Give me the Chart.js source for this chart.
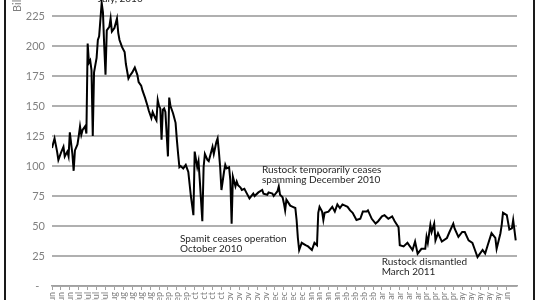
<!DOCTYPE html>
<html>
<head>
<meta charset="utf-8">
<script src="https://cdn.jsdelivr.net/npm/chart.js@4.4.1/dist/chart.umd.min.js"></script>
<style>
  body { margin: 0; background: #fff; }
  #wrap { position: relative; width: 540px; height: 300px; overflow: hidden; }
  #box { position: absolute; left: 0; top: -40px; width: 540px; height: 340px; }
</style>
</head>
<body>
<div id="wrap"><div id="box"><canvas id="spam"></canvas></div></div>
<script>
// day 0 = 15 June 2010, one point per reading
var days = [0, 2, 4, 5, 7, 9, 10, 12, 13, 14, 16, 17, 18, 20, 21, 22, 23, 24, 26, 27,
    28, 29, 30, 31, 32, 33, 35, 36, 37, 39, 40, 41, 42, 43, 45, 46, 47, 49, 51, 52,
    53, 55, 57, 58, 60, 61, 63, 64, 65, 67, 68, 70, 71, 73, 75, 76, 78, 79, 81, 82,
    83, 84, 85, 86, 87, 88, 89, 91, 92, 93, 95, 97, 98, 99, 100,
    101, 103, 105, 107, 108, 109, 111, 112, 114, 115, 116, 118, 119, 120, 122, 123, 124, 126, 127, 129,
    130, 131, 132, 133, 135, 136, 137, 139, 140, 141, 142, 144, 145, 146, 148, 149, 151, 153, 155, 158,
    159, 162, 165, 166, 169, 170, 173, 174, 177, 178, 179, 181, 182, 183, 184, 187, 189, 191, 192, 193,
    194, 196, 199, 201, 204, 206, 208, 209, 210, 212, 213, 214, 217, 220, 222, 224, 226, 228, 232, 234,
    236, 239, 242, 244, 247, 248, 251, 254, 256, 259, 261, 264, 267, 269, 272, 273, 276, 279, 283, 285,
    287, 290, 293, 294, 295, 297, 298, 300, 301, 303, 306, 310, 312, 315, 316, 319, 322, 324, 327, 330,
    332, 334, 338, 340, 342, 345, 348, 349, 352, 353, 354, 357, 359, 361, 362, 364]
var volumes = [115, 123, 112, 105, 111, 116, 108, 112, 108, 128, 110, 96, 113, 118, 125, 133, 126, 130, 133, 127,
    202, 186, 188, 180, 125, 178, 190, 205, 208, 236, 228, 200, 176, 213, 216, 223, 212, 215, 223, 211,
    205, 199, 195, 185, 173, 175, 178, 180, 182, 176, 170, 167, 163, 157, 150, 146, 140, 145, 140, 138,
    155, 150, 148, 122, 147, 148, 145, 108, 157, 150, 144, 136, 122, 110, 99,
    100, 98, 101, 95, 85, 75, 59, 112, 99, 104, 88, 54, 99, 110, 105, 104, 108, 116, 110, 120,
    123, 112, 99, 80, 95, 101, 98, 99, 88, 52, 91, 83, 87, 84, 82, 80, 81, 77, 73, 77,
    75, 78, 80, 77, 76, 78, 77, 75, 79, 83, 76, 74, 69, 63, 72, 67, 66, 65, 55, 40,
    30, 36, 34, 33, 30, 36, 34, 61, 66, 62, 55, 61, 62, 66, 62, 68, 65, 68, 66, 63,
    61, 55, 56, 62, 62, 63, 56, 52, 54, 58, 59, 56, 58, 54, 49, 34, 33, 36, 30, 37,
    27, 31, 31, 41, 36, 51, 45, 52, 38, 44, 37, 40, 45, 52, 48, 41, 45, 45, 38, 36,
    30, 24, 30, 27, 34, 44, 40, 31, 44, 51, 61, 59, 47, 48, 55, 38]
var tickLabels = ['15-Jun', '22-Jun', '29-Jun', '6-Jul', '13-Jul', '20-Jul', '27-Jul',
    '3-Aug', '10-Aug', '17-Aug', '24-Aug', '31-Aug', '7-Sep', '14-Sep', '21-Sep', '28-Sep',
    '5-Oct', '12-Oct', '19-Oct', '26-Oct', '2-Nov', '9-Nov', '16-Nov', '23-Nov', '30-Nov',
    '7-Dec', '14-Dec', '21-Dec', '28-Dec', '4-Jan', '11-Jan', '18-Jan', '25-Jan',
    '1-Feb', '8-Feb', '15-Feb', '22-Feb', '1-Mar', '8-Mar', '15-Mar', '22-Mar', '29-Mar',
    '5-Apr', '12-Apr', '19-Apr', '26-Apr', '3-May', '10-May', '17-May', '24-May', '31-May',
    '7-Jun', '14-Jun']
var notes = [
    { day: 36, value: 239.5, lines: ['July, 2010'] },
    { day: 100.5, value: 39, lines: ['Spamit ceases operation', 'October 2010'] },
    { day: 164.8, value: 96.7, lines: ['Rustock temporarily ceases', 'spamming December 2010'] },
    { day: 258.8, value: 20, lines: ['Rustock dismantled', 'March 2011'] }
]

var notesPlugin = {
    id: 'notes',
    afterDraw: function (chart) {
        var ctx = chart.ctx, x = chart.scales.x, y = chart.scales.y
        ctx.save()
        ctx.font = '10px Lato'
        ctx.fillStyle = '#262626'
        ctx.textBaseline = 'middle'
        notes.forEach(function (n) {
            n.lines.forEach(function (line, i) {
                ctx.fillText(line, x.getPixelForValue(n.day), y.getPixelForValue(n.value) + i * 9.5)
            })
        })
        // frame of the original figure
        ctx.fillStyle = '#1a1a1a'
        ctx.fillRect(4, 0, 2, chart.height)
        ctx.fillRect(533, 0, 2, chart.height)
        // axis title, mostly cut off at the top
        ctx.translate(17, 52)
        ctx.rotate(-Math.PI / 2)
        ctx.textAlign = 'left'
        ctx.fillStyle = '#7f7f7f'
        ctx.font = '11px Lato'
        ctx.fillText('Billions of spam messages per day', 0, 0)
        ctx.restore()
    }
}

var points = days.map(function (d, i) { return { x: d, y: volumes[i] } })

new Chart(document.getElementById('spam').getContext('2d'), {
    type: 'line',
    data: {
        datasets: [{
            data: points,
            borderColor: '#000',
            borderWidth: 2,
            pointRadius: 0,
            tension: 0
        }]
    },
    options: {
        responsive: true,
        maintainAspectRatio: false,
        animation: false,
        layout: { padding: { left: 0, right: 23, top: 26, bottom: 0 } },
        plugins: { legend: { display: false }, tooltip: { enabled: false } },
        scales: {
            x: {
                type: 'linear',
                min: 0,
                max: 365,
                afterBuildTicks: function (s) { s.ticks = s.ticks.filter(function (t) { return t.value % 7 === 0 }) },
                afterFit: function (s) { s.height = 14 },
                grid: { drawOnChartArea: false, tickLength: 4, color: '#a0a0a0', lineWidth: 1 },
                border: { color: '#a0a0a0', width: 1.5 },
                ticks: {
                    stepSize: 7,
                    autoSkip: false,
                    minRotation: 90,
                    maxRotation: 90,
                    padding: 2,
                    color: '#808080',
                    font: { family: 'Lato', size: 9 },
                    callback: function (v) { return tickLabels[v / 7] }
                }
            },
            y: {
                min: 0,
                max: 250,
                afterFit: function (s) { s.width = 52 },
                grid: { drawTicks: false, color: '#b0b0b0', lineWidth: 2 },
                border: { display: false },
                ticks: {
                    stepSize: 25,
                    padding: 7,
                    color: '#808080',
                    font: { family: 'Lato', size: 11 },
                    callback: function (v) { return v === 0 ? '-  ' : v }
                }
            }
        }
    },
    plugins: [notesPlugin]
})
</script>
</body>
</html>
